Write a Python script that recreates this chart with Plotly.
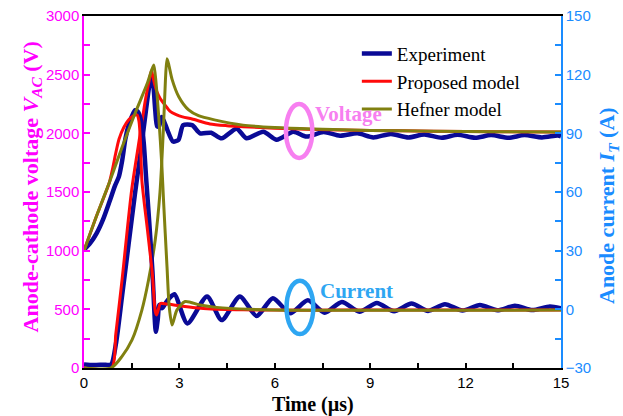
import plotly.graph_objects as go

# ---- Waveform data (time in µs, voltage in V, current in A) ----
# Measured anode-cathode voltage
t_exp_v = [0, 0.3, 0.6, 0.85, 1.0, 1.2, 1.4, 1.6, 1.8, 1.95, 2.05, 2.12, 2.17, 2.24, 2.3,
           2.36, 2.44, 2.52, 2.62, 2.8, 2.97, 3.12, 3.4, 3.65, 4.0, 4.33, 4.8, 5.11, 5.64,
           6.06, 6.58, 7.0, 7.53, 8.05, 8.6, 9.1, 9.65, 10.2, 10.7, 11.25, 11.75, 12.3,
           12.8, 13.35, 13.85, 14.4, 14.9, 15]
v_exp = [30, 25, 28, 30, 200, 620, 1050, 1480, 1880, 2200, 2400, 2490, 2440, 2200, 2060,
         2060, 2140, 2100, 2030, 1930, 1945, 2070, 2070, 2000, 2005, 1958, 2040, 1958, 2014,
         1945, 2014, 1972, 2012, 1980, 2000, 1965, 1995, 1965, 1990, 1962, 1988, 1962,
         1985, 1962, 1985, 1965, 1982, 1975]

# Measured anode current
t_exp_i = [0, 0.2, 0.4, 0.6, 0.8, 0.97, 1.1, 1.2, 1.3, 1.4, 1.5, 1.61, 1.7, 1.8, 1.88,
           1.95, 2.05, 2.15, 2.26, 2.32, 2.37, 2.45, 2.56, 2.7, 2.85, 3.25, 3.87, 4.33,
           4.9, 5.43, 5.94, 6.48, 7.04, 7.57, 8.11, 8.66, 9.21, 9.75, 10.3, 10.82, 11.35,
           11.9, 12.45, 13.0, 13.55, 14.1, 14.65, 15]
i_exp = [30.5, 34, 39, 46, 55, 63, 68, 76, 87, 94, 98.5, 101.8, 101, 96, 85,
         68, 45, 20, -11.5, -5, 2.2, 0.5, 3, 6, 7.7, -7.2, 6.5, -5.5,
         6.5, -3.4, 5.7, -2.0, 4.6, -1.7, 3.8, -1.2, 3.3, -1.0, 3.0, -0.8, 2.6,
         -0.6, 2.2, -0.5, 1.8, -0.4, 1.5, 0.5]

# Proposed model
t_prop_v = [0, 0.87, 1.0, 1.2, 1.5, 1.77, 1.93, 2.05, 2.12, 2.17, 2.22, 2.3, 2.4, 2.55,
            2.7, 2.9, 3.1, 3.4, 3.96, 4.5, 5.0, 6.0, 7.0, 9.0, 11.0, 13.0, 15.0]
v_prop = [0, 0, 290, 760, 1520, 2000, 2284, 2450, 2534, 2480, 2420, 2350, 2295, 2240,
          2190, 2160, 2140, 2122, 2080, 2065, 2057, 2043, 2035, 2025, 2018, 2014, 2012]
t_prop_i = [0, 0.4, 0.8, 0.9, 1.0, 1.1, 1.25, 1.4, 1.55, 1.67, 1.73, 1.78, 1.82, 2.0, 2.15,
            2.24, 2.28, 2.34, 2.4, 2.6, 3.0, 3.5, 4.0, 5.0, 6.0, 8.0, 15.0]
i_prop = [30, 48, 65, 72, 80, 87, 93, 96.8, 99, 99.4, 96, 84, 66, 40, 18,
          -1, -2.9, 0, 3.0, 2.7, 1.8, 0.8, 0.2, -0.2, -0.4, -0.4, -0.4]

# Hefner model
t_hef_v = [0, 0.85, 1.19, 1.51, 1.82, 2.03, 2.24, 2.39, 2.5, 2.56, 2.61, 2.67, 2.77,
           2.98, 3.29, 3.6, 4.1, 5.0, 6.0, 7.2, 9.0, 11.0, 13.0, 15.0]
v_hef = [0, 0, 97, 239, 494, 750, 1091, 1500, 2057, 2450, 2635, 2580, 2460,
         2312, 2199, 2150, 2115, 2070, 2050, 2037, 2025, 2018, 2014, 2012]
t_hef_i = [0, 0.4, 0.8, 1.2, 1.6, 2.0, 2.19, 2.24, 2.35, 2.45, 2.5, 2.61, 2.68, 2.77,
           2.92, 3.18, 3.65, 4.17, 5.2, 6.8, 15.0]
i_hef = [30, 48, 65, 83, 100, 116, 124.9, 120, 98.5, 73, 56, 21.8, 1.4, -8,
         -0.4, 4.0, 2.2, 1.0, 0, -0.5, -0.4]

# Axis ticks
x_ticks = [0, 3, 6, 9, 12, 15]
v_ticks = [0, 500, 1000, 1500, 2000, 2500, 3000]
i_ticks = [-30, 0, 30, 60, 90, 120, 150]

C_EXP = "#0a0a96"
C_PROP = "#ff0a0a"
C_HEF = "#808010"
C_MAG = "#ff00ff"
C_BLUE = "#1a8cff"
C_PINK = "#f77ff0"
C_LBLUE = "#2ea6f2"

SERIF = "Liberation Serif"
SANS = "Liberation Sans"

fig = go.Figure()

series = [
    ("Experiment", C_EXP, 4.5, t_exp_v, v_exp, t_exp_i, i_exp),
    ("Proposed model", C_PROP, 3, t_prop_v, v_prop, t_prop_i, i_prop),
    ("Hefner model", C_HEF, 3, t_hef_v, v_hef, t_hef_i, i_hef),
]
for name, color, w, tv, vv, ti, ii in series:
    fig.add_trace(go.Scatter(x=tv, y=vv, mode="lines", name=name, legendgroup=name,
                             line=dict(color=color, width=w, shape="spline", smoothing=0.7),
                             yaxis="y"))
    fig.add_trace(go.Scatter(x=ti, y=ii, mode="lines", name=name, legendgroup=name,
                             showlegend=False,
                             line=dict(color=color, width=w, shape="spline", smoothing=0.7),
                             yaxis="y2"))

# Ellipses marking the voltage and current groups
fig.add_shape(type="circle", xref="x", yref="y", x0=6.35, x1=7.18, y0=1790, y1=2250,
              line=dict(color=C_PINK, width=4.5))
fig.add_shape(type="circle", xref="x", yref="y2", x0=6.37, x1=7.21, y0=-12.6, y1=14.6,
              line=dict(color=C_LBLUE, width=4.5))
fig.add_annotation(x=7.2, y=2165, xref="x", yref="y", text="<b>Voltage</b>",
                   xanchor="left", yanchor="middle", showarrow=False,
                   font=dict(family=SERIF, size=21, color=C_PINK))
fig.add_annotation(x=7.36, y=9.5, xref="x", yref="y2", text="<b>Current</b>",
                   xanchor="left", yanchor="middle", showarrow=False,
                   font=dict(family=SERIF, size=21, color=C_LBLUE))

# Axis titles
fig.add_annotation(x=-0.109, y=0.513, xref="paper", yref="paper", textangle=-90,
                   text="<b>Anode-cathode voltage <i>V</i><sub><i>AC</i></sub> (V)</b>",
                   showarrow=False, xanchor="center", yanchor="middle",
                   font=dict(family=SERIF, size=22, color=C_MAG))
fig.add_annotation(x=1.0985, y=0.463, xref="paper", yref="paper", textangle=-90,
                   text="<b>Anode current <i>I</i><sub><i>T</i></sub> (A)</b>",
                   showarrow=False, xanchor="center", yanchor="middle",
                   font=dict(family=SERIF, size=22, color=C_BLUE))
fig.add_annotation(x=0.48, y=-0.105, xref="paper", yref="paper",
                   text="<b>Time (µs)</b>", showarrow=False,
                   xanchor="center", yanchor="middle",
                   font=dict(family=SERIF, size=20, color="black"))

fig.update_layout(
    width=623, height=416,
    margin=dict(l=84, r=62, t=16, b=48, autoexpand=False),
    paper_bgcolor="white", plot_bgcolor="white",
    showlegend=True,
    legend=dict(x=0.572, y=0.947, xanchor="left", yanchor="top",
                bgcolor="rgba(0,0,0,0)", font=dict(family=SERIF, size=19, color="black"),
                tracegroupgap=0),
    xaxis=dict(range=[0, 15], tickvals=x_ticks, ticks="inside", ticklen=5, tickwidth=1.5,
               tickcolor="black", showline=True, linecolor="black", linewidth=1.5,
               mirror=True, showgrid=False, zeroline=False, automargin=False,
               minor=dict(dtick=1.5, ticks="inside", ticklen=5, tickcolor="black", tickwidth=1.5),
               tickfont=dict(family=SANS, size=15, color="black")),
    yaxis=dict(range=[0, 3000], tickvals=v_ticks, ticks="inside", ticklen=6, tickwidth=1.5,
               tickcolor=C_MAG, showline=True, linecolor=C_MAG, linewidth=1.5,
               showgrid=False, zeroline=False, automargin=False,
               minor=dict(dtick=250, ticks="inside", ticklen=6, tickcolor=C_MAG, tickwidth=1.5),
               tickfont=dict(family=SANS, size=15, color=C_MAG)),
    yaxis2=dict(range=[-30, 150], tickvals=i_ticks, ticks="inside", ticklen=6, tickwidth=1.5,
                tickcolor=C_BLUE, showline=True, linecolor=C_BLUE, linewidth=1.5,
                overlaying="y", side="right", showgrid=False, zeroline=False,
                automargin=False,
                minor=dict(dtick=15, ticks="inside", ticklen=6, tickcolor=C_BLUE, tickwidth=1.5),
                tickfont=dict(family=SANS, size=15, color=C_BLUE)),
)

fig.write_html("out.html")
